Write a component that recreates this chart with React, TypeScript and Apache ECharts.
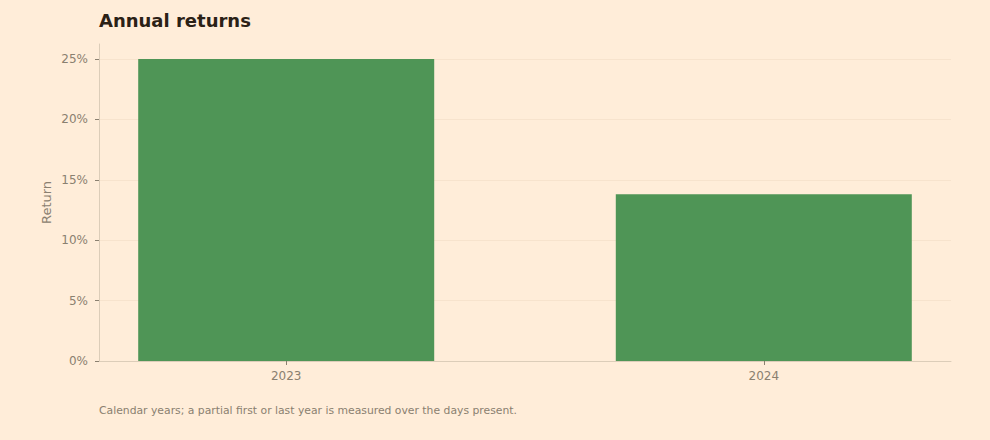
import * as echarts from 'echarts';
import React, { useEffect, useRef } from 'react';

const years = [2023, 2024];
const returns = [25.0, 13.8];
const yTicks = [0, 5, 10, 15, 20, 25];
const yMax = 26.25;
const xPad = 0.392;

const App: React.FC = () => {
  const chartRef = useRef<HTMLDivElement>(null);

  useEffect(() => {
    if (!chartRef.current) return;
    const chart = echarts.init(chartRef.current, null, { renderer: 'svg' });
    const font = '"DejaVu Sans", sans-serif';

    chart.setOption({
      animation: false,
      backgroundColor: '#FFEDD9',
      textStyle: { fontFamily: font },
      title: {
        text: 'Annual returns',
        left: 94,
        top: 6,
        textStyle: { fontSize: 18, fontWeight: 'bold', color: '#2B2116', fontFamily: font },
      },
      grid: { left: 99, right: 39, top: 44, bottom: 79 },
      xAxis: {
        type: 'value',
        min: years[0] - xPad,
        max: years[years.length - 1] + xPad,
        axisLine: { show: true, lineStyle: { color: '#DCCDB9' } },
        axisTick: { show: true, customValues: years, length: 4, lineStyle: { color: '#8A8070' } },
        axisLabel: {
          customValues: years,
          color: '#8A8070',
          fontSize: 12,
          margin: 9,
          formatter: (v: number) => String(v),
        },
        splitLine: { show: false },
      },
      yAxis: {
        type: 'value',
        min: 0,
        max: yMax,
        name: 'Return',
        nameLocation: 'middle',
        nameGap: 46,
        nameMoveOverlap: false,
        nameTextStyle: { color: '#8A8070', fontSize: 13 },
        axisLine: { show: true, lineStyle: { color: '#DCCDB9' } },
        axisTick: { show: true, customValues: yTicks, length: 4, lineStyle: { color: '#8A8070' } },
        axisLabel: { customValues: yTicks, color: '#8A8070', fontSize: 12, margin: 11, formatter: '{value}%' },
        splitLine: { lineStyle: { color: '#F7E3CD' } },
      },
      series: [
        {
          type: 'bar',
          data: years.map((y, i) => [y, returns[i]]),
          barWidth: 296,
          itemStyle: { color: '#4F9556' },
        },
      ],
      graphic: [
        {
          type: 'text',
          left: 99,
          top: 405,
          style: {
            text: 'Calendar years; a partial first or last year is measured over the days present.',
            fill: '#8A8070',
            font: `10.8px ${font}`,
          },
        },
      ],
    });

    return () => {
      chart.dispose();
    };
  }, []);

  return (
    <div
      ref={chartRef}
      style={{ position: 'fixed', left: 0, top: 0, width: 990, height: 440 }}
    ></div>
  );
};

export default App;
